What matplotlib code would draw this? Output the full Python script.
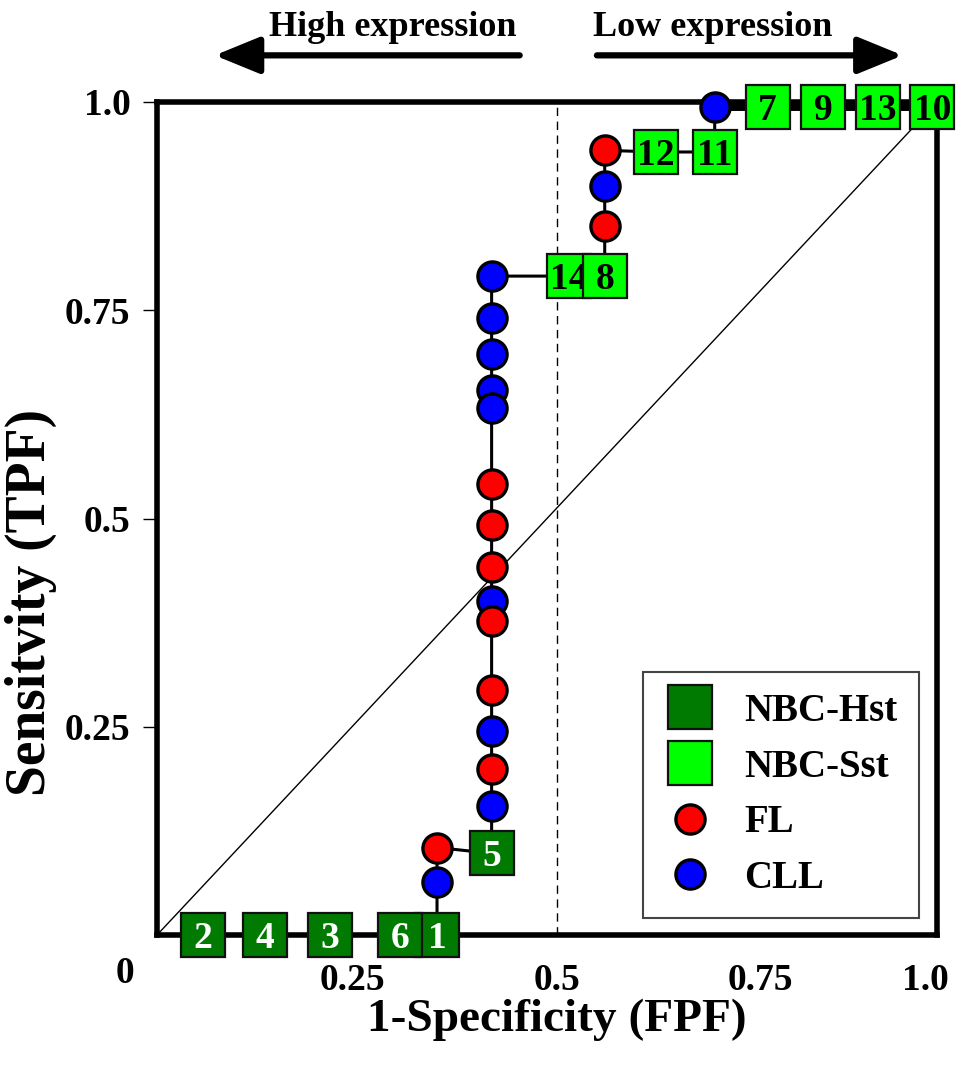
import matplotlib
matplotlib.use("Agg")
import matplotlib.pyplot as plt
from matplotlib.lines import Line2D

# ROC points in curve order (FPF, TPF)
curve_x = [0.0, 0.059, 0.138, 0.222, 0.312, 0.359, 0.359, 0.359, 0.429,
           0.429, 0.429, 0.429, 0.429, 0.429, 0.429, 0.429, 0.429, 0.429,
           0.429, 0.429, 0.429, 0.429, 0.429, 0.528, 0.574, 0.574, 0.574,
           0.574, 0.640, 0.715, 0.715, 0.783, 0.854, 0.924, 0.994]
curve_y = [0.0, 0.0, 0.0, 0.0, 0.0, 0.0, 0.064, 0.105, 0.098,
           0.155, 0.199, 0.245, 0.294, 0.377, 0.401, 0.442, 0.492, 0.541,
           0.633, 0.654, 0.697, 0.741, 0.791, 0.791, 0.791, 0.851, 0.899,
           0.942, 0.940, 0.940, 0.994, 0.994, 0.994, 0.994, 0.994]
# H = NBC-Hst, S = NBC-Sst, FL, CLL, "" = origin
curve_kind = ["", "H", "H", "H", "H", "H", "CLL", "FL", "H",
              "CLL", "FL", "CLL", "FL", "FL", "CLL", "FL", "FL", "FL",
              "CLL", "CLL", "CLL", "CLL", "CLL", "S", "S", "FL", "CLL",
              "FL", "S", "S", "CLL", "S", "S", "S", "S"]
curve_label = ["", "2", "4", "3", "6", "1", "", "", "5",
               "", "", "", "", "", "", "", "", "",
               "", "", "", "", "", "14", "8", "", "",
               "", "12", "11", "", "7", "9", "13", "10"]

xtick_pos = [0.25, 0.513, 0.774, 0.985]
xtick_labels = ["0.25", "0.5", "0.75", "1.0"]
ytick_pos = [0.25, 0.5, 0.75, 1.0]
ytick_labels = ["0.25", "0.5", "0.75", "1.0"]
cutoff_x = 0.513

colors = {"H": "#007a00", "S": "#00ff00", "FL": "#ff0000", "CLL": "#0000ff"}
text_colors = {"H": "white", "S": "black"}

plt.rcParams["font.family"] = ["Liberation Serif", "DejaVu Serif"]
plt.rcParams["font.weight"] = "bold"

fig = plt.figure(figsize=(9.72, 10.66), dpi=100)
ax = fig.add_axes([157 / 972, 131 / 1066, 780 / 972, 833 / 1066])
ax.set_xlim(0, 1)
ax.set_ylim(0, 1)

for s in ax.spines.values():
    s.set_linewidth(4)

# chance diagonal and cut-off line
ax.plot([0, 1], [0, 1], color="black", lw=1, zorder=3)
ax.plot([cutoff_x, cutoff_x], [0, 1], color="black", lw=1, ls=(0, (6, 4)), zorder=3)

# the ROC curve (top run merges with the frame, so draw it heavier)
ax.plot(curve_x, curve_y, color="black", lw=2.2, zorder=4, clip_on=False)
ax.plot(curve_x[-5:], curve_y[-5:], color="black", lw=5, zorder=4, clip_on=False)

# markers
for i, (x, y, k, lab) in enumerate(zip(curve_x, curve_y, curve_kind, curve_label)):
    if k in ("FL", "CLL"):
        ax.plot(x, y, marker="o", ms=21, mfc=colors[k], mec="black", mew=2.4,
                ls="none", zorder=20 - y, clip_on=False)
    elif k in ("H", "S"):
        z = 30 + i
        if lab == "6":
            z = 60
        ax.plot(x, y, marker="s", ms=32, mfc=colors[k], mec="#111111", mew=1.6,
                ls="none", zorder=z, clip_on=False)
        ax.text(x, y - 0.004, lab, color=text_colors[k], fontsize=27, fontweight="bold",
                ha="center", va="center", zorder=z + 0.5, clip_on=False)

# ticks
ax.set_yticks(ytick_pos, ytick_labels)
ax.set_xticks(xtick_pos, xtick_labels)
ax.set_xticks([cutoff_x], minor=True)
ax.tick_params(axis="y", direction="out", length=10, width=1, pad=9, labelsize=27)
ax.tick_params(axis="x", which="major", length=0, pad=20, labelsize=27)
ax.tick_params(axis="x", which="minor", direction="out", length=8, width=1)
ax.text(-0.041, -0.025, "0", transform=ax.transData, fontsize=27, fontweight="bold",
        ha="center", va="top")

ax.set_xlabel("1-Specificity (FPF)", fontsize=34, fontweight="bold")
ax.xaxis.set_label_coords(0.512, -0.076)
ax.set_ylabel("Sensitvity (TPF)", fontsize=40, fontweight="bold")
ax.yaxis.set_label_coords(-0.128, 0.399)

# legend
handles = [
    Line2D([], [], marker="s", ms=32, mfc=colors["H"], mec="#111111", mew=1.6, ls="none"),
    Line2D([], [], marker="s", ms=32, mfc=colors["S"], mec="#111111", mew=1.6, ls="none"),
    Line2D([], [], marker="o", ms=21, mfc=colors["FL"], mec="black", mew=2.4, ls="none"),
    Line2D([], [], marker="o", ms=21, mfc=colors["CLL"], mec="black", mew=2.4, ls="none"),
]
leg = ax.legend(handles, ["NBC-Hst", "NBC-Sst", "FL", "CLL"], loc="lower left",
                bbox_to_anchor=(0.623, 0.02), prop={"size": 28, "weight": "bold"},
                fancybox=False, framealpha=1, edgecolor="#444444",
                handlelength=1.3, handletextpad=0.75, borderpad=0.55,
                labelspacing=0.48, borderaxespad=0)
leg.get_frame().set_linewidth(1.5)
leg.set_zorder(100)

# direction arrows above the plot
arrow_props = dict(arrowstyle="-|>,head_length=1.1,head_width=0.45", lw=4.5,
                   color="black", mutation_scale=25, shrinkA=0, shrinkB=0)
ax.annotate("", xy=(0.074, 1.056), xytext=(0.465, 1.056), xycoords="axes fraction",
            arrowprops=arrow_props, annotation_clip=False)
ax.annotate("", xy=(0.956, 1.056), xytext=(0.564, 1.056), xycoords="axes fraction",
            arrowprops=arrow_props, annotation_clip=False)
ax.text(0.302, 1.090, "High expression", transform=ax.transAxes, fontsize=26,
        fontweight="bold", ha="center", va="center")
ax.text(0.713, 1.090, "Low expression", transform=ax.transAxes, fontsize=26,
        fontweight="bold", ha="center", va="center")

fig.savefig("out.png", dpi=100)
